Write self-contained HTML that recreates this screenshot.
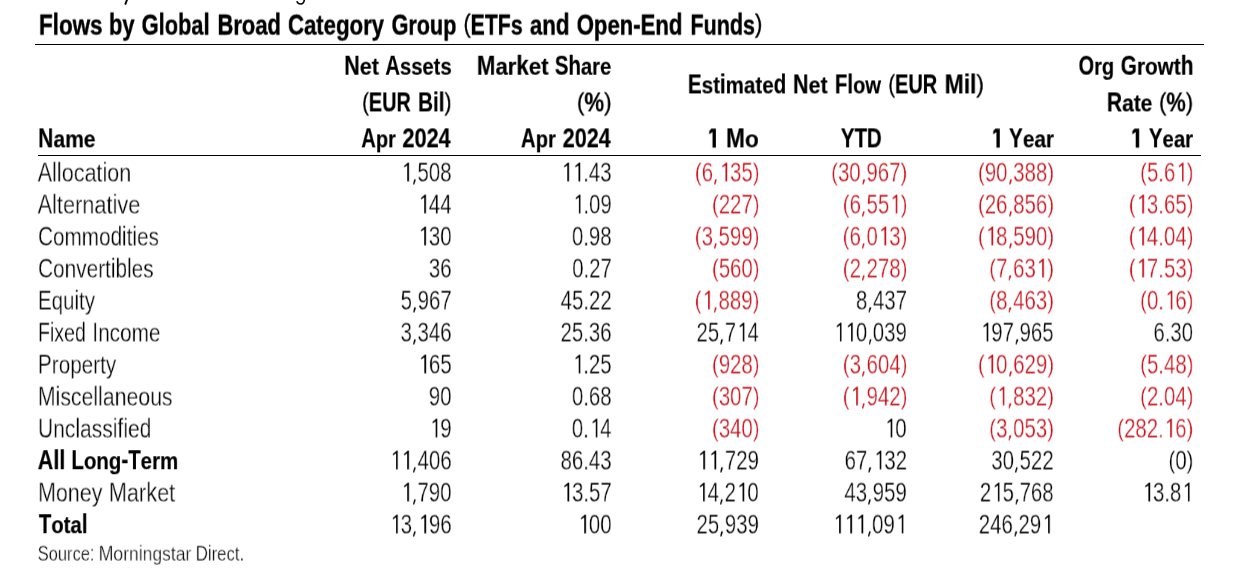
<!DOCTYPE html>
<html><head><meta charset="utf-8"><style>
html,body{margin:0;padding:0;background:#fff;}
body{width:1252px;height:573px;position:relative;overflow:hidden;-webkit-font-smoothing:antialiased;font-family:"Liberation Sans",sans-serif;color:#000;}
.t{position:absolute;white-space:pre;line-height:1;transform-origin:0 50%;will-change:transform;}
.n{-webkit-text-stroke:0.35px #fff;}
.b{font-weight:700;-webkit-text-stroke:0.2px #000;}
.tt{-webkit-text-stroke:0.45px #000;}
.lc{display:inline-block;transform:scaleY(0.93);transform-origin:50% 84.65%;}
.lcb{display:inline-block;transform:scaleY(0.89);transform-origin:50% 84.65%;}
.lct{display:inline-block;transform:scaleY(0.92);transform-origin:50% 84.65%;}
.pb{display:inline-block;font-weight:400;-webkit-text-stroke:0.4px #000;transform:scaleY(0.886);transform-origin:50% 38%;}
.pt{display:inline-block;font-weight:400;-webkit-text-stroke:0.5px #000;transform:scaleY(0.846);transform-origin:50% 49%;}
.one{display:inline-block;position:relative;-webkit-text-fill-color:transparent;-webkit-text-stroke:0;}
.g1{position:absolute;left:0;top:0;width:0.556em;height:1em;fill:currentColor;overflow:visible;}
.gc{position:absolute;left:0;top:0;width:0.278em;height:1em;fill:currentColor;overflow:visible;}
.p{display:inline-block;transform:scaleY(0.89);transform-origin:50% 38%;}
.rule{position:absolute;background:#000;}
</style></head><body>
<svg width="0" height="0" style="position:absolute"><defs>
<path id="r1" d="M333 830 L333 242 L176 316 L176 268 L362 147.5 L413 147.5 L413 830 Z"/>
<path id="cm" d="M118 756 L204 756 L126 942 L68 942 Z"/>
<path id="b1" d="M250 829.5 L250 254 L101 331 L101 210 L202 119.5 L405 119.5 L405 829.5 Z"/>
</defs></svg>
<svg style="position:absolute;left:0;top:0" width="1252" height="12" viewBox="0 0 1252 12">
<path d="M127.1 -0.5 L125.2 4.7" stroke="#000" stroke-width="1.9" fill="none"/>
<path d="M296.8 1.3 C297.8 3.6 299.0 4.0 300.6 4.0 C303.4 4.0 304.2 2.4 304.4 -1" stroke="#000" stroke-width="1.6" fill="none"/>
</svg>
<div class="rule" style="left:35px;top:44px;width:1169px;height:1.4px"></div>
<div class="rule" style="left:38px;top:155px;width:1163px;height:1.2px"></div>
<div class="t b tt" style="left:38px;top:9px;font-size:30.0px;transform:translate(0.925px,0.605px) scaleX(0.7485);">Fl<span class="lct">ows</span></div>
<div class="t b tt" style="left:108px;top:9px;font-size:30.0px;transform:translate(0.930px,0.605px) scaleX(0.7327);">b<span class="lct">y</span></div>
<div class="t b tt" style="left:141px;top:9px;font-size:30.0px;transform:translate(0.663px,0.605px) scaleX(0.7273);">Gl<span class="lct">o</span>b<span class="lct">a</span>l</div>
<div class="t b tt" style="left:217px;top:9px;font-size:30.0px;transform:translate(0.520px,0.605px) scaleX(0.7313);">B<span class="lct">roa</span>d</div>
<div class="t b tt" style="left:287px;top:9px;font-size:30.0px;transform:translate(0.966px,0.605px) scaleX(0.7391);">C<span class="lct">ategory</span></div>
<div class="t b tt" style="left:391px;top:9px;font-size:30.0px;transform:translate(0.602px,0.605px) scaleX(0.7192);">G<span class="lct">roup</span></div>
<div class="t b tt" style="left:463px;top:9px;font-size:30.0px;transform:translate(0.514px,0.605px) scaleX(0.7084);"><span class="pt">(</span>ETF<span class="lct">s</span></div>
<div class="t b tt" style="left:529px;top:9px;font-size:30.0px;transform:translate(0.870px,0.605px) scaleX(0.7413);"><span class="lct">an</span>d</div>
<div class="t b tt" style="left:576px;top:9px;font-size:30.0px;transform:translate(0.746px,0.605px) scaleX(0.7365);">O<span class="lct">pen</span>-E<span class="lct">n</span>d</div>
<div class="t b tt" style="left:690px;top:9px;font-size:30.0px;transform:translate(0.394px,0.605px) scaleX(0.7177);">F<span class="lct">un</span>d<span class="lct">s</span><span class="pt">)</span></div>
<div class="t b" style="left:344px;top:52px;font-size:26.9px;transform:translate(0.206px,0.729px) scaleX(0.7989);">N<span class="lcb">et</span></div>
<div class="t b" style="left:385px;top:52px;font-size:26.9px;transform:translate(0.350px,0.729px) scaleX(0.7514);">A<span class="lcb">ssets</span></div>
<div class="t b" style="left:362px;top:89px;font-size:26.9px;transform:translate(0.159px,0.429px) scaleX(0.7404);"><span class="pb">(</span>EUR</div>
<div class="t b" style="left:418px;top:89px;font-size:26.9px;transform:translate(0.026px,0.429px) scaleX(0.7693);">Bil<span class="pb">)</span></div>
<div class="t b" style="left:361px;top:125px;font-size:26.9px;transform:translate(0.266px,0.329px) scaleX(0.7469);">A<span class="lcb">pr</span></div>
<div class="t b" style="left:402px;top:125px;font-size:26.9px;transform:translate(0.427px,0.329px) scaleX(0.8062);">2024</div>
<div class="t b" style="left:476px;top:52px;font-size:26.9px;transform:translate(0.863px,0.729px) scaleX(0.8272);">M<span class="lcb">ar</span>k<span class="lcb">et</span></div>
<div class="t b" style="left:554px;top:52px;font-size:26.9px;transform:translate(0.850px,0.729px) scaleX(0.7558);">Sh<span class="lcb">are</span></div>
<div class="t b" style="left:576px;top:89px;font-size:26.9px;transform:translate(0.934px,0.429px) scaleX(0.8249);"><span class="pb">(</span>%<span class="pb">)</span></div>
<div class="t b" style="left:520px;top:125px;font-size:26.9px;transform:translate(0.895px,0.329px) scaleX(0.7557);">A<span class="lcb">pr</span></div>
<div class="t b" style="left:562px;top:125px;font-size:26.9px;transform:translate(0.668px,0.329px) scaleX(0.8039);">2024</div>
<div class="t b" style="left:687px;top:71px;font-size:26.9px;transform:translate(0.922px,0.429px) scaleX(0.7641);">E<span class="lcb">st</span>i<span class="lcb">mate</span>d</div>
<div class="t b" style="left:792px;top:71px;font-size:26.9px;transform:translate(0.963px,0.429px) scaleX(0.7995);">N<span class="lcb">et</span></div>
<div class="t b" style="left:834px;top:71px;font-size:26.9px;transform:translate(0.937px,0.429px) scaleX(0.7529);">Fl<span class="lcb">ow</span></div>
<div class="t b" style="left:888px;top:71px;font-size:26.9px;transform:translate(0.307px,0.429px) scaleX(0.7432);"><span class="pb">(</span>EUR</div>
<div class="t b" style="left:944px;top:71px;font-size:26.9px;transform:translate(0.648px,0.429px) scaleX(0.8517);">Mil<span class="pb">)</span></div>
<div class="t b" style="left:1078px;top:52px;font-size:26.9px;transform:translate(0.588px,0.729px) scaleX(0.7398);">O<span class="lcb">rg</span></div>
<div class="t b" style="left:1120px;top:52px;font-size:26.9px;transform:translate(0.718px,0.729px) scaleX(0.7721);">G<span class="lcb">rowt</span>h</div>
<div class="t b" style="left:1106px;top:89px;font-size:26.9px;transform:translate(0.913px,0.429px) scaleX(0.7805);">R<span class="lcb">ate</span></div>
<div class="t b" style="left:1159px;top:89px;font-size:26.9px;transform:translate(0.043px,0.429px) scaleX(0.8113);"><span class="pb">(</span>%<span class="pb">)</span></div>
<div class="t b" style="left:1130px;top:125px;font-size:26.9px;transform:translate(0.011px,0.329px) scaleX(0.8399);"><span class="one">1<svg class="g1" viewBox="0 0 556 1000" preserveAspectRatio="none"><use href="#b1"/></svg></span></div>
<div class="t b" style="left:1148px;top:125px;font-size:26.9px;transform:translate(0.867px,0.329px) scaleX(0.7573);">Y<span class="lcb">ear</span></div>
<div class="t b" style="left:38px;top:125px;font-size:26.9px;transform:translate(0.134px,0.329px) scaleX(0.7832);">N<span class="lcb">ame</span></div>
<div class="t b" style="left:707px;top:125px;font-size:26.9px;transform:translate(0.032px,0.329px) scaleX(0.8030);"><span class="one">1<svg class="g1" viewBox="0 0 556 1000" preserveAspectRatio="none"><use href="#b1"/></svg></span></div>
<div class="t b" style="left:725px;top:125px;font-size:26.9px;transform:translate(0.980px,0.329px) scaleX(0.8437);">M<span class="lcb">o</span></div>
<div class="t b" style="left:840px;top:125px;font-size:26.9px;transform:translate(0.790px,0.329px) scaleX(0.7627);">YTD</div>
<div class="t b" style="left:991px;top:125px;font-size:26.9px;transform:translate(0.057px,0.329px) scaleX(0.7916);"><span class="one">1<svg class="g1" viewBox="0 0 556 1000" preserveAspectRatio="none"><use href="#b1"/></svg></span></div>
<div class="t b" style="left:1008px;top:125px;font-size:26.9px;transform:translate(0.942px,0.329px) scaleX(0.7723);">Y<span class="lcb">ear</span></div>
<div class="t n" style="left:37px;top:158px;font-size:27.4px;transform:translate(0.664px,0.606px) scaleX(0.7880);">All<span class="lc">ocat</span>i<span class="lc">on</span></div>
<div class="t n" style="left:400px;top:158px;font-size:27.4px;transform:translate(0.510px,0.606px) scaleX(0.7450);"><span class="one">1<svg class="g1" viewBox="0 0 556 1000" preserveAspectRatio="none"><use href="#r1"/></svg></span><span class="one">,<svg class="gc" viewBox="0 0 278 1000" preserveAspectRatio="none"><use href="#cm"/></svg></span>508</div>
<div class="t n" style="left:560px;top:158px;font-size:27.4px;transform:translate(0.533px,0.606px) scaleX(0.7450);"><span class="one">1<svg class="g1" viewBox="0 0 556 1000" preserveAspectRatio="none"><use href="#r1"/></svg></span><span class="one">1<svg class="g1" viewBox="0 0 556 1000" preserveAspectRatio="none"><use href="#r1"/></svg></span>.43</div>
<div class="t n" style="left:694px;top:158px;font-size:27.4px;transform:translate(0.833px,0.606px) scaleX(0.7450);color:#cc121b;"><span class="p">(</span>6<span class="one">,<svg class="gc" viewBox="0 0 278 1000" preserveAspectRatio="none"><use href="#cm"/></svg></span><span class="one">1<svg class="g1" viewBox="0 0 556 1000" preserveAspectRatio="none"><use href="#r1"/></svg></span>35<span class="p">)</span></div>
<div class="t n" style="left:831px;top:158px;font-size:27.4px;transform:translate(0.172px,0.606px) scaleX(0.7450);color:#cc121b;"><span class="p">(</span>30<span class="one">,<svg class="gc" viewBox="0 0 278 1000" preserveAspectRatio="none"><use href="#cm"/></svg></span>967<span class="p">)</span></div>
<div class="t n" style="left:977px;top:158px;font-size:27.4px;transform:translate(0.978px,0.606px) scaleX(0.7450);color:#cc121b;"><span class="p">(</span>90<span class="one">,<svg class="gc" viewBox="0 0 278 1000" preserveAspectRatio="none"><use href="#cm"/></svg></span>388<span class="p">)</span></div>
<div class="t n" style="left:1140px;top:158px;font-size:27.4px;transform:translate(0.114px,0.606px) scaleX(0.7450);color:#cc121b;"><span class="p">(</span>5.6<span class="one">1<svg class="g1" viewBox="0 0 556 1000" preserveAspectRatio="none"><use href="#r1"/></svg></span><span class="p">)</span></div>
<div class="t n" style="left:37px;top:190px;font-size:27.4px;transform:translate(0.631px,0.606px) scaleX(0.7932);">Al<span class="lc">ternat</span>i<span class="lc">ve</span></div>
<div class="t n" style="left:417px;top:190px;font-size:27.4px;transform:translate(0.487px,0.606px) scaleX(0.7450);"><span class="one">1<svg class="g1" viewBox="0 0 556 1000" preserveAspectRatio="none"><use href="#r1"/></svg></span>44</div>
<div class="t n" style="left:572px;top:190px;font-size:27.4px;transform:translate(0.072px,0.606px) scaleX(0.7450);"><span class="one">1<svg class="g1" viewBox="0 0 556 1000" preserveAspectRatio="none"><use href="#r1"/></svg></span>.09</div>
<div class="t n" style="left:711px;top:190px;font-size:27.4px;transform:translate(0.957px,0.606px) scaleX(0.7450);color:#cc121b;"><span class="p">(</span>227<span class="p">)</span></div>
<div class="t n" style="left:842px;top:190px;font-size:27.4px;transform:translate(0.738px,0.606px) scaleX(0.7450);color:#cc121b;"><span class="p">(</span>6<span class="one">,<svg class="gc" viewBox="0 0 278 1000" preserveAspectRatio="none"><use href="#cm"/></svg></span>55<span class="one">1<svg class="g1" viewBox="0 0 556 1000" preserveAspectRatio="none"><use href="#r1"/></svg></span><span class="p">)</span></div>
<div class="t n" style="left:977px;top:190px;font-size:27.4px;transform:translate(0.969px,0.606px) scaleX(0.7450);color:#cc121b;"><span class="p">(</span>26<span class="one">,<svg class="gc" viewBox="0 0 278 1000" preserveAspectRatio="none"><use href="#cm"/></svg></span>856<span class="p">)</span></div>
<div class="t n" style="left:1128px;top:190px;font-size:27.4px;transform:translate(0.812px,0.606px) scaleX(0.7450);color:#cc121b;"><span class="p">(</span><span class="one">1<svg class="g1" viewBox="0 0 556 1000" preserveAspectRatio="none"><use href="#r1"/></svg></span>3.65<span class="p">)</span></div>
<div class="t n" style="left:38px;top:222px;font-size:27.4px;transform:translate(0.039px,0.606px) scaleX(0.7558);">C<span class="lc">ommo</span>di<span class="lc">t</span>i<span class="lc">es</span></div>
<div class="t n" style="left:417px;top:222px;font-size:27.4px;transform:translate(0.504px,0.606px) scaleX(0.7450);"><span class="one">1<svg class="g1" viewBox="0 0 556 1000" preserveAspectRatio="none"><use href="#r1"/></svg></span>30</div>
<div class="t n" style="left:571px;top:222px;font-size:27.4px;transform:translate(0.921px,0.606px) scaleX(0.7450);">0.98</div>
<div class="t n" style="left:694px;top:222px;font-size:27.4px;transform:translate(0.738px,0.606px) scaleX(0.7450);color:#cc121b;"><span class="p">(</span>3<span class="one">,<svg class="gc" viewBox="0 0 278 1000" preserveAspectRatio="none"><use href="#cm"/></svg></span>599<span class="p">)</span></div>
<div class="t n" style="left:842px;top:222px;font-size:27.4px;transform:translate(0.645px,0.606px) scaleX(0.7450);color:#cc121b;"><span class="p">(</span>6<span class="one">,<svg class="gc" viewBox="0 0 278 1000" preserveAspectRatio="none"><use href="#cm"/></svg></span>0<span class="one">1<svg class="g1" viewBox="0 0 556 1000" preserveAspectRatio="none"><use href="#r1"/></svg></span>3<span class="p">)</span></div>
<div class="t n" style="left:977px;top:222px;font-size:27.4px;transform:translate(0.978px,0.606px) scaleX(0.7450);color:#cc121b;"><span class="p">(</span><span class="one">1<svg class="g1" viewBox="0 0 556 1000" preserveAspectRatio="none"><use href="#r1"/></svg></span>8<span class="one">,<svg class="gc" viewBox="0 0 278 1000" preserveAspectRatio="none"><use href="#cm"/></svg></span>590<span class="p">)</span></div>
<div class="t n" style="left:1128px;top:222px;font-size:27.4px;transform:translate(0.798px,0.606px) scaleX(0.7450);color:#cc121b;"><span class="p">(</span><span class="one">1<svg class="g1" viewBox="0 0 556 1000" preserveAspectRatio="none"><use href="#r1"/></svg></span>4.04<span class="p">)</span></div>
<div class="t n" style="left:38px;top:254px;font-size:27.4px;transform:translate(0.035px,0.606px) scaleX(0.7592);">C<span class="lc">onvert</span>ibl<span class="lc">es</span></div>
<div class="t n" style="left:428px;top:254px;font-size:27.4px;transform:translate(0.858px,0.606px) scaleX(0.7450);">36</div>
<div class="t n" style="left:572px;top:254px;font-size:27.4px;transform:translate(0.176px,0.606px) scaleX(0.7450);">0.27</div>
<div class="t n" style="left:711px;top:254px;font-size:27.4px;transform:translate(0.957px,0.606px) scaleX(0.7450);color:#cc121b;"><span class="p">(</span>560<span class="p">)</span></div>
<div class="t n" style="left:842px;top:254px;font-size:27.4px;transform:translate(0.738px,0.606px) scaleX(0.7450);color:#cc121b;"><span class="p">(</span>2<span class="one">,<svg class="gc" viewBox="0 0 278 1000" preserveAspectRatio="none"><use href="#cm"/></svg></span>278<span class="p">)</span></div>
<div class="t n" style="left:989px;top:254px;font-size:27.4px;transform:translate(0.236px,0.606px) scaleX(0.7450);color:#cc121b;"><span class="p">(</span>7<span class="one">,<svg class="gc" viewBox="0 0 278 1000" preserveAspectRatio="none"><use href="#cm"/></svg></span>63<span class="one">1<svg class="g1" viewBox="0 0 556 1000" preserveAspectRatio="none"><use href="#r1"/></svg></span><span class="p">)</span></div>
<div class="t n" style="left:1128px;top:254px;font-size:27.4px;transform:translate(0.812px,0.606px) scaleX(0.7450);color:#cc121b;"><span class="p">(</span><span class="one">1<svg class="g1" viewBox="0 0 556 1000" preserveAspectRatio="none"><use href="#r1"/></svg></span>7.53<span class="p">)</span></div>
<div class="t n" style="left:37px;top:286px;font-size:27.4px;transform:translate(0.908px,0.606px) scaleX(0.7500);">E<span class="lc">qu</span>i<span class="lc">ty</span></div>
<div class="t n" style="left:400px;top:286px;font-size:27.4px;transform:translate(0.670px,0.606px) scaleX(0.7450);">5<span class="one">,<svg class="gc" viewBox="0 0 278 1000" preserveAspectRatio="none"><use href="#cm"/></svg></span>967</div>
<div class="t n" style="left:560px;top:286px;font-size:27.4px;transform:translate(0.657px,0.606px) scaleX(0.7450);">45.22</div>
<div class="t n" style="left:694px;top:286px;font-size:27.4px;transform:translate(0.664px,0.606px) scaleX(0.7450);color:#cc121b;"><span class="p">(</span><span class="one">1<svg class="g1" viewBox="0 0 556 1000" preserveAspectRatio="none"><use href="#r1"/></svg></span><span class="one">,<svg class="gc" viewBox="0 0 278 1000" preserveAspectRatio="none"><use href="#cm"/></svg></span>889<span class="p">)</span></div>
<div class="t n" style="left:855px;top:286px;font-size:27.4px;transform:translate(0.950px,0.606px) scaleX(0.7450);">8<span class="one">,<svg class="gc" viewBox="0 0 278 1000" preserveAspectRatio="none"><use href="#cm"/></svg></span>437</div>
<div class="t n" style="left:989px;top:286px;font-size:27.4px;transform:translate(0.244px,0.606px) scaleX(0.7450);color:#cc121b;"><span class="p">(</span>8<span class="one">,<svg class="gc" viewBox="0 0 278 1000" preserveAspectRatio="none"><use href="#cm"/></svg></span>463<span class="p">)</span></div>
<div class="t n" style="left:1140px;top:286px;font-size:27.4px;transform:translate(0.109px,0.606px) scaleX(0.7450);color:#cc121b;"><span class="p">(</span>0.<span class="one">1<svg class="g1" viewBox="0 0 556 1000" preserveAspectRatio="none"><use href="#r1"/></svg></span>6<span class="p">)</span></div>
<div class="t n" style="left:37px;top:318px;font-size:27.4px;transform:translate(0.978px,0.606px) scaleX(0.7142);">Fi<span class="lc">xe</span>d</div>
<div class="t n" style="left:92px;top:318px;font-size:27.4px;transform:translate(0.325px,0.606px) scaleX(0.7594);">I<span class="lc">ncome</span></div>
<div class="t n" style="left:400px;top:318px;font-size:27.4px;transform:translate(0.554px,0.606px) scaleX(0.7450);">3<span class="one">,<svg class="gc" viewBox="0 0 278 1000" preserveAspectRatio="none"><use href="#cm"/></svg></span>346</div>
<div class="t n" style="left:560px;top:318px;font-size:27.4px;transform:translate(0.526px,0.606px) scaleX(0.7450);">25.36</div>
<div class="t n" style="left:696px;top:318px;font-size:27.4px;transform:translate(0.478px,0.606px) scaleX(0.7450);">25<span class="one">,<svg class="gc" viewBox="0 0 278 1000" preserveAspectRatio="none"><use href="#cm"/></svg></span>7<span class="one">1<svg class="g1" viewBox="0 0 556 1000" preserveAspectRatio="none"><use href="#r1"/></svg></span>4</div>
<div class="t n" style="left:833px;top:318px;font-size:27.4px;transform:translate(0.094px,0.606px) scaleX(0.7450);"><span class="one">1<svg class="g1" viewBox="0 0 556 1000" preserveAspectRatio="none"><use href="#r1"/></svg></span><span class="one">1<svg class="g1" viewBox="0 0 556 1000" preserveAspectRatio="none"><use href="#r1"/></svg></span>0<span class="one">,<svg class="gc" viewBox="0 0 278 1000" preserveAspectRatio="none"><use href="#cm"/></svg></span>039</div>
<div class="t n" style="left:979px;top:318px;font-size:27.4px;transform:translate(0.848px,0.606px) scaleX(0.7450);"><span class="one">1<svg class="g1" viewBox="0 0 556 1000" preserveAspectRatio="none"><use href="#r1"/></svg></span>97<span class="one">,<svg class="gc" viewBox="0 0 278 1000" preserveAspectRatio="none"><use href="#cm"/></svg></span>965</div>
<div class="t n" style="left:1153px;top:318px;font-size:27.4px;transform:translate(0.394px,0.606px) scaleX(0.7450);">6.30</div>
<div class="t n" style="left:37px;top:350px;font-size:27.4px;transform:translate(0.885px,0.606px) scaleX(0.7572);">P<span class="lc">roperty</span></div>
<div class="t n" style="left:417px;top:350px;font-size:27.4px;transform:translate(0.586px,0.606px) scaleX(0.7450);"><span class="one">1<svg class="g1" viewBox="0 0 556 1000" preserveAspectRatio="none"><use href="#r1"/></svg></span>65</div>
<div class="t n" style="left:571px;top:350px;font-size:27.4px;transform:translate(0.890px,0.606px) scaleX(0.7450);"><span class="one">1<svg class="g1" viewBox="0 0 556 1000" preserveAspectRatio="none"><use href="#r1"/></svg></span>.25</div>
<div class="t n" style="left:711px;top:350px;font-size:27.4px;transform:translate(0.957px,0.606px) scaleX(0.7450);color:#cc121b;"><span class="p">(</span>928<span class="p">)</span></div>
<div class="t n" style="left:842px;top:350px;font-size:27.4px;transform:translate(0.738px,0.606px) scaleX(0.7450);color:#cc121b;"><span class="p">(</span>3<span class="one">,<svg class="gc" viewBox="0 0 278 1000" preserveAspectRatio="none"><use href="#cm"/></svg></span>604<span class="p">)</span></div>
<div class="t n" style="left:977px;top:350px;font-size:27.4px;transform:translate(0.969px,0.606px) scaleX(0.7450);color:#cc121b;"><span class="p">(</span><span class="one">1<svg class="g1" viewBox="0 0 556 1000" preserveAspectRatio="none"><use href="#r1"/></svg></span>0<span class="one">,<svg class="gc" viewBox="0 0 278 1000" preserveAspectRatio="none"><use href="#cm"/></svg></span>629<span class="p">)</span></div>
<div class="t n" style="left:1140px;top:350px;font-size:27.4px;transform:translate(0.125px,0.606px) scaleX(0.7450);color:#cc121b;"><span class="p">(</span>5.48<span class="p">)</span></div>
<div class="t n" style="left:37px;top:382px;font-size:27.4px;transform:translate(0.856px,0.606px) scaleX(0.7759);">Mi<span class="lc">sce</span>ll<span class="lc">aneous</span></div>
<div class="t n" style="left:428px;top:382px;font-size:27.4px;transform:translate(0.794px,0.606px) scaleX(0.7450);">90</div>
<div class="t n" style="left:571px;top:382px;font-size:27.4px;transform:translate(0.921px,0.606px) scaleX(0.7450);">0.68</div>
<div class="t n" style="left:711px;top:382px;font-size:27.4px;transform:translate(0.957px,0.606px) scaleX(0.7450);color:#cc121b;"><span class="p">(</span>307<span class="p">)</span></div>
<div class="t n" style="left:842px;top:382px;font-size:27.4px;transform:translate(0.738px,0.606px) scaleX(0.7450);color:#cc121b;"><span class="p">(</span><span class="one">1<svg class="g1" viewBox="0 0 556 1000" preserveAspectRatio="none"><use href="#r1"/></svg></span><span class="one">,<svg class="gc" viewBox="0 0 278 1000" preserveAspectRatio="none"><use href="#cm"/></svg></span>942<span class="p">)</span></div>
<div class="t n" style="left:989px;top:382px;font-size:27.4px;transform:translate(0.236px,0.606px) scaleX(0.7450);color:#cc121b;"><span class="p">(</span><span class="one">1<svg class="g1" viewBox="0 0 556 1000" preserveAspectRatio="none"><use href="#r1"/></svg></span><span class="one">,<svg class="gc" viewBox="0 0 278 1000" preserveAspectRatio="none"><use href="#cm"/></svg></span>832<span class="p">)</span></div>
<div class="t n" style="left:1140px;top:382px;font-size:27.4px;transform:translate(0.111px,0.606px) scaleX(0.7450);color:#cc121b;"><span class="p">(</span>2.04<span class="p">)</span></div>
<div class="t n" style="left:37px;top:414px;font-size:27.4px;transform:translate(0.971px,0.606px) scaleX(0.7675);">U<span class="lc">nc</span>l<span class="lc">ass</span>ifi<span class="lc">e</span>d</div>
<div class="t n" style="left:428px;top:414px;font-size:27.4px;transform:translate(0.881px,0.606px) scaleX(0.7450);"><span class="one">1<svg class="g1" viewBox="0 0 556 1000" preserveAspectRatio="none"><use href="#r1"/></svg></span>9</div>
<div class="t n" style="left:571px;top:414px;font-size:27.4px;transform:translate(0.804px,0.606px) scaleX(0.7450);">0.<span class="one">1<svg class="g1" viewBox="0 0 556 1000" preserveAspectRatio="none"><use href="#r1"/></svg></span>4</div>
<div class="t n" style="left:711px;top:414px;font-size:27.4px;transform:translate(0.957px,0.606px) scaleX(0.7450);color:#cc121b;"><span class="p">(</span>340<span class="p">)</span></div>
<div class="t n" style="left:883px;top:414px;font-size:27.4px;transform:translate(0.879px,0.606px) scaleX(0.7450);"><span class="one">1<svg class="g1" viewBox="0 0 556 1000" preserveAspectRatio="none"><use href="#r1"/></svg></span>0</div>
<div class="t n" style="left:989px;top:414px;font-size:27.4px;transform:translate(0.226px,0.606px) scaleX(0.7450);color:#cc121b;"><span class="p">(</span>3<span class="one">,<svg class="gc" viewBox="0 0 278 1000" preserveAspectRatio="none"><use href="#cm"/></svg></span>053<span class="p">)</span></div>
<div class="t n" style="left:1117px;top:414px;font-size:27.4px;transform:translate(0.253px,0.606px) scaleX(0.7450);color:#cc121b;"><span class="p">(</span>282.<span class="one">1<svg class="g1" viewBox="0 0 556 1000" preserveAspectRatio="none"><use href="#r1"/></svg></span>6<span class="p">)</span></div>
<div class="t b" style="left:37px;top:447px;font-size:26.9px;transform:translate(0.698px,0.229px) scaleX(0.8019);">All</div>
<div class="t b" style="left:71px;top:447px;font-size:26.9px;transform:translate(0.378px,0.229px) scaleX(0.7611);">L<span class="lcb">ong</span>-T<span class="lcb">erm</span></div>
<div class="t n" style="left:389px;top:446px;font-size:27.4px;transform:translate(0.290px,0.606px) scaleX(0.7450);"><span class="one">1<svg class="g1" viewBox="0 0 556 1000" preserveAspectRatio="none"><use href="#r1"/></svg></span><span class="one">1<svg class="g1" viewBox="0 0 556 1000" preserveAspectRatio="none"><use href="#r1"/></svg></span><span class="one">,<svg class="gc" viewBox="0 0 278 1000" preserveAspectRatio="none"><use href="#cm"/></svg></span>406</div>
<div class="t n" style="left:560px;top:446px;font-size:27.4px;transform:translate(0.562px,0.606px) scaleX(0.7450);">86.43</div>
<div class="t n" style="left:696px;top:446px;font-size:27.4px;transform:translate(0.517px,0.606px) scaleX(0.7450);"><span class="one">1<svg class="g1" viewBox="0 0 556 1000" preserveAspectRatio="none"><use href="#r1"/></svg></span><span class="one">1<svg class="g1" viewBox="0 0 556 1000" preserveAspectRatio="none"><use href="#r1"/></svg></span><span class="one">,<svg class="gc" viewBox="0 0 278 1000" preserveAspectRatio="none"><use href="#cm"/></svg></span>729</div>
<div class="t n" style="left:844px;top:446px;font-size:27.4px;transform:translate(0.613px,0.606px) scaleX(0.7450);">67<span class="one">,<svg class="gc" viewBox="0 0 278 1000" preserveAspectRatio="none"><use href="#cm"/></svg></span><span class="one">1<svg class="g1" viewBox="0 0 556 1000" preserveAspectRatio="none"><use href="#r1"/></svg></span>32</div>
<div class="t n" style="left:991px;top:446px;font-size:27.4px;transform:translate(0.271px,0.606px) scaleX(0.7450);">30<span class="one">,<svg class="gc" viewBox="0 0 278 1000" preserveAspectRatio="none"><use href="#cm"/></svg></span>522</div>
<div class="t n" style="left:1168px;top:446px;font-size:27.4px;transform:translate(0.437px,0.606px) scaleX(0.7450);"><span class="p">(</span>0<span class="p">)</span></div>
<div class="t n" style="left:38px;top:478px;font-size:27.4px;transform:translate(0.027px,0.606px) scaleX(0.7836);">M<span class="lc">oney</span></div>
<div class="t n" style="left:108px;top:478px;font-size:27.4px;transform:translate(0.808px,0.606px) scaleX(0.7927);">M<span class="lc">ar</span>k<span class="lc">et</span></div>
<div class="t n" style="left:400px;top:478px;font-size:27.4px;transform:translate(0.486px,0.606px) scaleX(0.7450);"><span class="one">1<svg class="g1" viewBox="0 0 556 1000" preserveAspectRatio="none"><use href="#r1"/></svg></span><span class="one">,<svg class="gc" viewBox="0 0 278 1000" preserveAspectRatio="none"><use href="#cm"/></svg></span>790</div>
<div class="t n" style="left:560px;top:478px;font-size:27.4px;transform:translate(0.672px,0.606px) scaleX(0.7450);"><span class="one">1<svg class="g1" viewBox="0 0 556 1000" preserveAspectRatio="none"><use href="#r1"/></svg></span>3.57</div>
<div class="t n" style="left:696px;top:478px;font-size:27.4px;transform:translate(0.298px,0.606px) scaleX(0.7450);"><span class="one">1<svg class="g1" viewBox="0 0 556 1000" preserveAspectRatio="none"><use href="#r1"/></svg></span>4<span class="one">,<svg class="gc" viewBox="0 0 278 1000" preserveAspectRatio="none"><use href="#cm"/></svg></span>2<span class="one">1<svg class="g1" viewBox="0 0 556 1000" preserveAspectRatio="none"><use href="#r1"/></svg></span>0</div>
<div class="t n" style="left:844px;top:478px;font-size:27.4px;transform:translate(0.371px,0.606px) scaleX(0.7450);">43<span class="one">,<svg class="gc" viewBox="0 0 278 1000" preserveAspectRatio="none"><use href="#cm"/></svg></span>959</div>
<div class="t n" style="left:979px;top:478px;font-size:27.4px;transform:translate(0.854px,0.606px) scaleX(0.7450);">2<span class="one">1<svg class="g1" viewBox="0 0 556 1000" preserveAspectRatio="none"><use href="#r1"/></svg></span>5<span class="one">,<svg class="gc" viewBox="0 0 278 1000" preserveAspectRatio="none"><use href="#cm"/></svg></span>768</div>
<div class="t n" style="left:1141px;top:478px;font-size:27.4px;transform:translate(0.635px,0.606px) scaleX(0.7450);"><span class="one">1<svg class="g1" viewBox="0 0 556 1000" preserveAspectRatio="none"><use href="#r1"/></svg></span>3.8<span class="one">1<svg class="g1" viewBox="0 0 556 1000" preserveAspectRatio="none"><use href="#r1"/></svg></span></div>
<div class="t b" style="left:38px;top:511px;font-size:26.9px;transform:translate(0.780px,0.229px) scaleX(0.7580);">T<span class="lcb">ota</span>l</div>
<div class="t n" style="left:389px;top:510px;font-size:27.4px;transform:translate(0.287px,0.606px) scaleX(0.7450);"><span class="one">1<svg class="g1" viewBox="0 0 556 1000" preserveAspectRatio="none"><use href="#r1"/></svg></span>3<span class="one">,<svg class="gc" viewBox="0 0 278 1000" preserveAspectRatio="none"><use href="#cm"/></svg></span><span class="one">1<svg class="g1" viewBox="0 0 556 1000" preserveAspectRatio="none"><use href="#r1"/></svg></span>96</div>
<div class="t n" style="left:577px;top:510px;font-size:27.4px;transform:translate(0.502px,0.606px) scaleX(0.7450);"><span class="one">1<svg class="g1" viewBox="0 0 556 1000" preserveAspectRatio="none"><use href="#r1"/></svg></span>00</div>
<div class="t n" style="left:696px;top:510px;font-size:27.4px;transform:translate(0.518px,0.606px) scaleX(0.7450);">25<span class="one">,<svg class="gc" viewBox="0 0 278 1000" preserveAspectRatio="none"><use href="#cm"/></svg></span>939</div>
<div class="t n" style="left:832px;top:510px;font-size:27.4px;transform:translate(0.367px,0.606px) scaleX(0.7450);"><span class="one">1<svg class="g1" viewBox="0 0 556 1000" preserveAspectRatio="none"><use href="#r1"/></svg></span><span class="one">1<svg class="g1" viewBox="0 0 556 1000" preserveAspectRatio="none"><use href="#r1"/></svg></span><span class="one">1<svg class="g1" viewBox="0 0 556 1000" preserveAspectRatio="none"><use href="#r1"/></svg></span><span class="one">,<svg class="gc" viewBox="0 0 278 1000" preserveAspectRatio="none"><use href="#cm"/></svg></span>09<span class="one">1<svg class="g1" viewBox="0 0 556 1000" preserveAspectRatio="none"><use href="#r1"/></svg></span></div>
<div class="t n" style="left:978px;top:510px;font-size:27.4px;transform:translate(0.766px,0.606px) scaleX(0.7450);">246<span class="one">,<svg class="gc" viewBox="0 0 278 1000" preserveAspectRatio="none"><use href="#cm"/></svg></span>29<span class="one">1<svg class="g1" viewBox="0 0 556 1000" preserveAspectRatio="none"><use href="#r1"/></svg></span></div>
<div class="t n" style="left:37px;top:543px;font-size:21.4px;transform:translate(0.676px,0.685px) scaleX(0.7703);">S<span class="lc">ource</span>:</div>
<div class="t n" style="left:98px;top:543px;font-size:21.4px;transform:translate(0.749px,0.685px) scaleX(0.8197);">M<span class="lc">orn</span>i<span class="lc">ngstar</span></div>
<div class="t n" style="left:195px;top:543px;font-size:21.4px;transform:translate(0.784px,0.685px) scaleX(0.7815);">Di<span class="lc">rect</span>.</div>
</body></html>
